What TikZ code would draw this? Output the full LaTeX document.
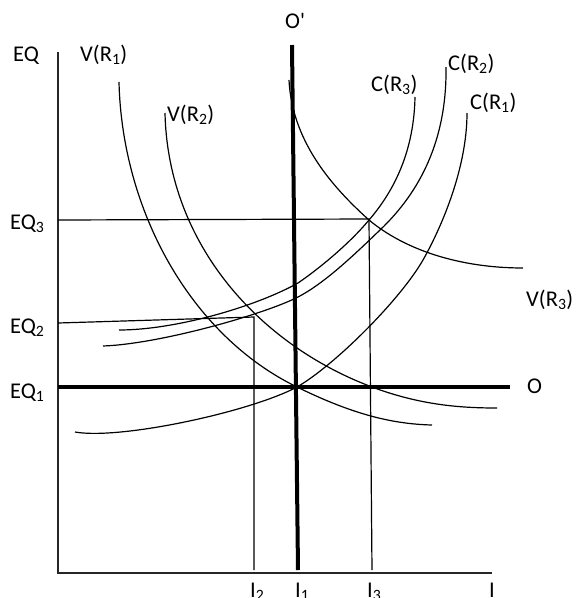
\documentclass[tikz,border=0pt]{standalone}
\usepackage{fontspec}
\setmainfont{Carlito}
\begin{document}
\begin{tikzpicture}[x=1pt,y=-1pt,
  thin line/.style={line width=1.2pt,black},
  thick line/.style={line width=4pt,black},
  axis line/.style={line width=1.6pt,black!85},
  curve/.style={line width=1.2pt,black},
  lab/.style={anchor=base west,inner sep=0pt,font=\fontsize{22.5}{24}\selectfont}]
\useasboundingbox (0,0) rectangle (576,598);
% axes
\coordinate (ytop) at (58,52);
\coordinate (orig) at (58,573);
\coordinate (xend) at (492,573);
\draw[axis line] (ytop) -- (orig) -- (xend);
% helper lines
\coordinate (eq3l) at (58,220);
\coordinate (p3) at (369,219);
\coordinate (i3b) at (372,570);
\coordinate (eq2l) at (58,323);
\coordinate (p2) at (254,317);
\coordinate (i2b) at (254,570);
\draw[thin line] (eq3l) -- (p3) -- (i3b);
\draw[thin line] (eq2l) -- (p2) -- (i2b);
% thick lines
\coordinate (ot) at (292,45);
\coordinate (ob) at (298,570);
\coordinate (eq1l) at (58,387);
\coordinate (oe) at (510,387);
\draw[thick line] (ot) -- (ob);
\draw[thick line] (eq1l) -- (oe);
% V curves
\draw[curve] (119,82) .. controls (122,210) and (190,335) .. (297,387)
  .. controls (350,413) and (390,424) .. (432,425);
\draw[curve] (165,113) .. controls (168,245) and (260,345) .. (372,387)
  .. controls (420,405) and (460,408) .. (497,408);
\draw[curve] (289,80) .. controls (292,140) and (330,185) .. (369,220)
  .. controls (405,250) and (460,268) .. (523,268);
% C curves
\draw[curve] (415,97) .. controls (414,150) and (395,190) .. (369,220)
  .. controls (350,243) and (320,268) .. (298,283)
  .. controls (255,307) and (175,330) .. (119,330);
\draw[curve] (446,67) .. controls (447,140) and (420,192) .. (380,230)
  .. controls (355,254) and (325,283) .. (298,297)
  .. controls (265,314) and (160,344) .. (103,346);
\draw[curve] (467,113) .. controls (467,170) and (440,230) .. (423,260)
  .. controls (400,300) and (335,365) .. (297,387)
  .. controls (250,412) and (120,440) .. (75,432);
% labels
\node[lab] (lEQ) at (13,61) {EQ};
\node[lab] (lEQ3) at (10,229) {EQ\textsubscript{3}};
\node[lab] (lEQ2) at (10,333) {EQ\textsubscript{2}};
\node[lab] (lEQ1) at (10,398) {EQ\textsubscript{1}};
\node[lab] (lV1) at (80,61) {V(R\textsubscript{1})};
\node[lab] (lV2) at (167,121) {V(R\textsubscript{2})};
\node[lab] (lV3) at (526,306) {V(R\textsubscript{3})};
\node[lab] (lC3) at (371,91) {C(R\textsubscript{3})};
\node[lab] (lC2) at (448,70) {C(R\textsubscript{2})};
\node[lab] (lC1) at (470,109) {C(R\textsubscript{1})};
\node[lab] (lOp) at (285,28) {O\textquotesingle};
\node[lab] (lO) at (527,393) {O};
\node[lab] (lI2) at (250,597) {I\textsubscript{2}};
\node[lab] (lI1) at (295,597) {I\textsubscript{1}};
\node[lab] (lI3) at (367,597) {I\textsubscript{3}};
\node[lab] (lI) at (489,597) {I};
\end{tikzpicture}
\end{document}
